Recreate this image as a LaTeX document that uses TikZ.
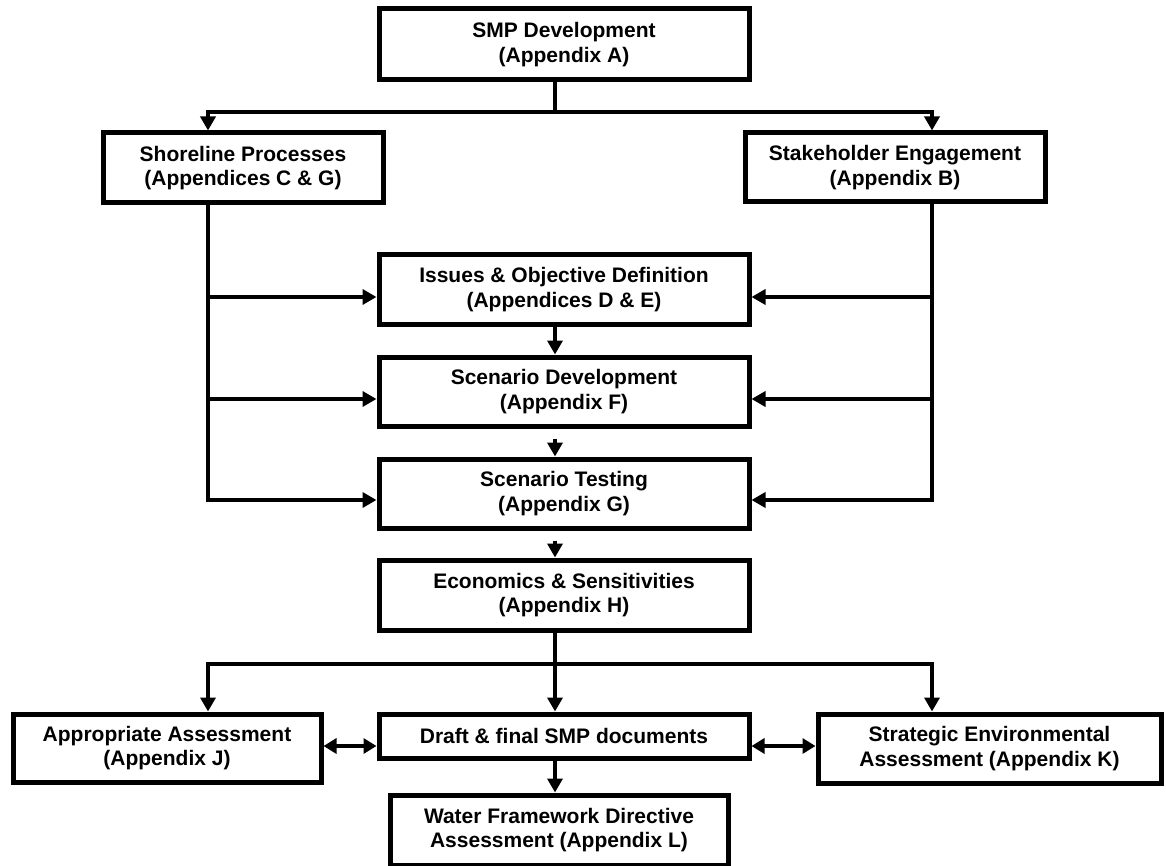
\documentclass[tikz,border=0pt]{standalone}
\usepackage{fontspec}
\setmainfont{Liberation Sans}
\usetikzlibrary{arrows.meta,calc}
\begin{document}
\begin{tikzpicture}[x=1pt,y=-1pt,
  box/.style={draw=black,line width=5pt,fill=white,inner sep=0pt,align=center,
    font=\fontsize{21}{24.5}\selectfont\bfseries},
  conn/.style={draw=black,line width=4pt,line join=miter,line cap=butt},
  arr/.style={conn,-{Triangle[length=14pt,width=15pt]}},
  dbl/.style={conn,{Triangle[length=13pt,width=15pt]}-{Triangle[length=13pt,width=15pt]}}
]
\useasboundingbox (0,0) rectangle (1166,866);
% boxes
\node[box,minimum width=370pt,minimum height=71pt] (smp) at (564,44.5) {SMP Development\\(Appendix A)};
\node[box,minimum width=280pt,minimum height=70pt] (shore) at (243,168) {Shoreline Processes\\(Appendices C \& G)};
\node[box,minimum width=300pt,minimum height=69pt] (stake) at (895,167.5) {Stakeholder Engagement\\(Appendix B)};
\node[box,minimum width=370pt,minimum height=69pt] (issues) at (564,289.5) {Issues \& Objective Definition\\(Appendices D \& E)};
\node[box,minimum width=370pt,minimum height=69pt] (scdev) at (564,391.5) {Scenario Development\\(Appendix F)};
\node[box,minimum width=370pt,minimum height=69pt] (sctest) at (564,493.5) {Scenario Testing\\(Appendix G)};
\node[box,minimum width=370pt,minimum height=70pt] (econ) at (564,595) {Economics \& Sensitivities\\(Appendix H)};
\node[box,minimum width=308pt,minimum height=68pt] (appr) at (167,748) {Appropriate Assessment\\(Appendix J)};
\node[box,minimum width=370pt,minimum height=44pt] (draft) at (564,736) {Draft \& final SMP documents};
\node[box,minimum width=343pt,minimum height=69pt] (sea) at (989.5,748.5) {Strategic Environmental\\Assessment (Appendix K)};
\node[box,minimum width=338pt,minimum height=70pt] (wfd) at (559,830) {Water Framework Directive\\Assessment (Appendix L)};
% junction coordinates
\coordinate (jt) at (555,112);
\coordinate (tl) at (208,112);
\coordinate (tr) at (932,112);
\coordinate (L1) at (208,297);
\coordinate (L2) at (208,399);
\coordinate (L3) at (208,500);
\coordinate (R1) at (932,297);
\coordinate (R2) at (932,399);
\coordinate (R3) at (932,500);
\coordinate (jb) at (555,664);
\coordinate (bl) at (208,664);
\coordinate (br) at (932,664);
\coordinate (dy) at (0,746);
% top distribution
\draw[conn] (smp.south -| jt) -- (jt);
\draw[arr] (jt) -| (tl |- shore.north);
\draw[arr] (jt) -| (tr |- stake.north);
% left trunk
\draw[arr] (shore.south -| L3) -- (L3) -- (L3 -| sctest.west);
\draw[arr] (L1) -- (L1 -| issues.west);
\draw[arr] (L2) -- (L2 -| scdev.west);
% right trunk
\draw[arr] (stake.south -| R3) -- (R3) -- (R3 -| sctest.east);
\draw[arr] (R1) -- (R1 -| issues.east);
\draw[arr] (R2) -- (R2 -| scdev.east);
% central chain
\draw[arr] (issues.south -| jt) -- (scdev.north -| jt);
\draw[arr,shorten <=10pt] (scdev.south -| jt) -- (sctest.north -| jt);
\draw[arr,shorten <=10pt] (sctest.south -| jt) -- (econ.north -| jt);
% bottom distribution
\draw[conn] (econ.south -| jb) -- (jb);
\draw[arr] (jb) -- (draft.north -| jb);
\draw[arr] (jb) -| (bl |- appr.north);
\draw[arr] (jb) -| (br |- sea.north);
\draw[dbl] (appr.east |- dy) -- (draft.west |- dy);
\draw[dbl] (draft.east |- dy) -- (sea.west |- dy);
\draw[arr] (draft.south -| jb) -- (wfd.north -| jb);
\end{tikzpicture}
\end{document}
